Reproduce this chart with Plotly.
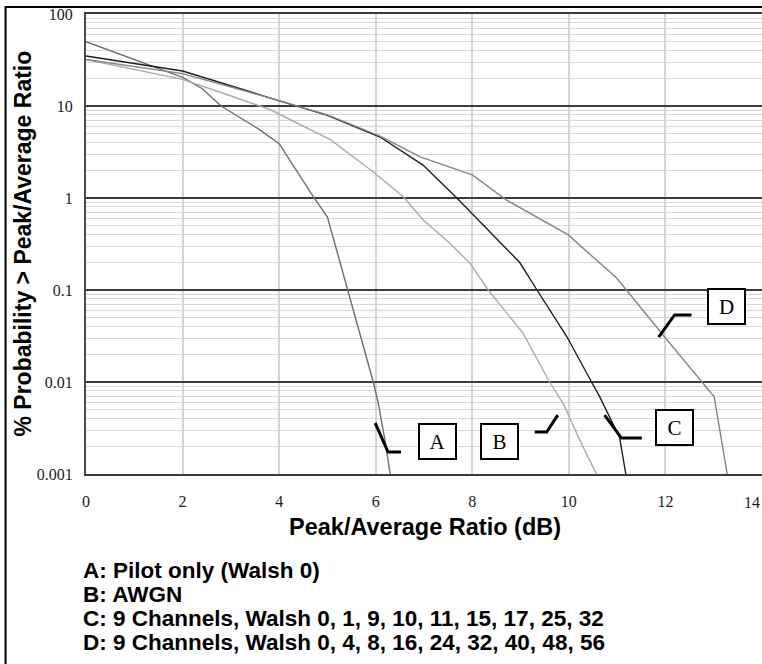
import numpy as np
import plotly.graph_objects as go

# Peak/average ratio (dB) vs. % probability that the ratio is exceeded
A_X = [0, 2, 2.4, 2.8, 3.6, 4.0, 4.7, 5.0, 5.42, 5.95, 6.05, 6.2, 6.3]
A_Y = [50, 20.5, 15.5, 10, 5.5, 3.9, 1.05, 0.62, 0.1, 0.01, 0.006, 0.0022, 0.001]

B_X = [0, 2, 3.05, 3.82, 5.06, 5.95, 6.57, 6.98, 7.54, 7.95, 8.33, 9.05, 9.6, 9.9, 10.2, 10.57]
B_Y = [32, 19.5, 12.6, 9.1, 4.3, 1.92, 1.03, 0.58, 0.32, 0.196, 0.1, 0.034, 0.01, 0.0056, 0.0025, 0.001]

C_X = [0, 2, 3.82, 5.0, 6.09, 6.98, 7.68, 8.47, 8.98, 9.34, 9.96, 10.47, 10.64, 11.05, 11.18]
C_Y = [35, 24, 12.2, 7.9, 4.6, 2.28, 1.0, 0.37, 0.2, 0.1, 0.031, 0.01, 0.0069, 0.0025, 0.001]

D_X = [0, 2, 3.82, 5.0, 6.09, 6.92, 8.0, 8.71, 9.98, 10.99, 11.98, 12.77, 13.01, 13.28]
D_Y = [32, 22.5, 12.2, 8.0, 4.7, 2.8, 1.78, 0.95, 0.40, 0.135, 0.031, 0.0098, 0.0069, 0.001]

CURVE_LABELS = ["A", "B", "C", "D"]
CURVE_COLORS = ["#6e6e6e", "#ababab", "#1e1e1e", "#858585"]

# Callout tags: label, box centre (dB, %) and the leader-line path
TAG_POS = {"A": (7.28, 0.00225), "B": (8.57, 0.00225), "C": (12.18, 0.0032), "D": (13.26, 0.067)}
LEADERS = {
    "A": ([5.99, 6.255, 6.524], [0.00358, 0.00173, 0.00173]),
    "B": ([9.294, 9.54, 9.77], [0.00286, 0.00286, 0.00437]),
    "C": ([10.74, 11.09, 11.51], [0.00437, 0.00246, 0.00246]),
    "D": ([11.86, 12.19, 12.54], [0.0308, 0.0535, 0.0535]),
}

X_TICKS = [0, 2, 4, 6, 8, 10, 12, 14]
X_TICKTEXT = ["0", "2", "4", "6", "8", "10", "12", ""]  # last label is placed flush with the edge
X_EDGE_LABEL = "14"
Y_TICKS = [0.001, 0.01, 0.1, 1, 10, 100]
Y_TICKTEXT = ["0.001", "0.01", "0.1", "1", "10", "100"]

LEGEND_LINES = [
    "A: Pilot only (Walsh 0)",
    "B: AWGN",
    "C: 9 Channels, Walsh 0, 1, 9, 10, 11, 15, 17, 25, 32",
    "D: 9 Channels, Walsh 0, 4, 8, 16, 24, 32, 40, 48, 56",
]

minor_vals = [m * 10.0 ** e for e in range(-3, 2) for m in range(2, 10)]

fig = go.Figure()
for lab, xs, ys, col in zip(CURVE_LABELS, [A_X, B_X, C_X, D_X], [A_Y, B_Y, C_Y, D_Y], CURVE_COLORS):
    fig.add_trace(go.Scatter(x=xs, y=ys, mode="lines", name=lab,
                             line=dict(color=col, width=1.4), hoverinfo="skip"))

for lab, (lx, ly) in LEADERS.items():
    fig.add_trace(go.Scatter(x=lx, y=ly, mode="lines", line=dict(color="black", width=3),
                             hoverinfo="skip", showlegend=False))

serif = "Liberation Serif, Times New Roman, serif"
sans = "Liberation Sans, Arial, Helvetica, sans-serif"

for lab, (tx, ty) in TAG_POS.items():
    fig.add_annotation(x=tx, y=float(np.log10(ty)), xref="x", yref="y", text=lab,
                       showarrow=False, font=dict(family=serif, size=21, color="black"),
                       bordercolor="black", borderwidth=2, borderpad=1,
                       width=33, height=31, bgcolor="white")

# right-most x tick label, kept inside the page
fig.add_annotation(x=1.0, y=-0.061, xref="paper", yref="paper", xanchor="right", yanchor="middle",
                   text=X_EDGE_LABEL, showarrow=False,
                   font=dict(family=serif, size=16, color="#1a1a1a"))

# axis titles
fig.add_annotation(x=-0.0939, y=0.5, xref="paper", yref="paper", textangle=-90,
                   xanchor="center", yanchor="middle",
                   text="<b>% Probability > Peak/Average Ratio</b>", showarrow=False,
                   font=dict(family=sans, size=23, color="black"))
fig.add_annotation(x=0.502, y=-0.115, xref="paper", yref="paper",
                   xanchor="center", yanchor="middle",
                   text="<b>Peak/Average Ratio (dB)</b>", showarrow=False,
                   font=dict(family=sans, size=23.5, color="black"))

for i, line in enumerate(LEGEND_LINES):
    fig.add_annotation(x=-0.008, y=-0.2087 - i * 0.0522, xref="paper", yref="paper",
                       xanchor="left", yanchor="middle", text="<b>" + line + "</b>",
                       showarrow=False, font=dict(family=sans, size=22.5, color="black"))

# outer frame
fig.add_shape(type="rect", xref="paper", yref="paper", x0=-0.119, x1=1.02, y0=-0.5, y1=1.0152,
              line=dict(color="black", width=2))

fig.update_layout(
    width=762, height=664,
    margin=dict(l=86, r=0, t=14, b=190, autoexpand=False),
    paper_bgcolor="white", plot_bgcolor="white",
    showlegend=False,
    xaxis=dict(range=[0, 14], tickvals=X_TICKS, ticktext=X_TICKTEXT,
               showgrid=True, gridcolor="#d4d4d4", gridwidth=1.5,
               zeroline=False, showline=True, linecolor="#3a3a3a", linewidth=2, mirror=True,
               ticks="", ticklabelstandoff=12, automargin=False,
               tickfont=dict(family=serif, size=16, color="#1a1a1a")),
    yaxis=dict(type="log", range=[-3, 2], tickvals=Y_TICKS, ticktext=Y_TICKTEXT,
               showgrid=True, gridcolor="#3c3c3c", gridwidth=1.5, automargin=False,
               zeroline=False, showline=True, linecolor="#4a4a4a", linewidth=2, mirror=True,
               ticks="", ticklabelstandoff=8,
               tickfont=dict(family=serif, size=16, color="#1a1a1a"),
               minor=dict(tickvals=minor_vals, showgrid=True, gridcolor="#d8d8d8", gridwidth=1.2,
                          ticks="")),
)

fig.write_html("out.html")
